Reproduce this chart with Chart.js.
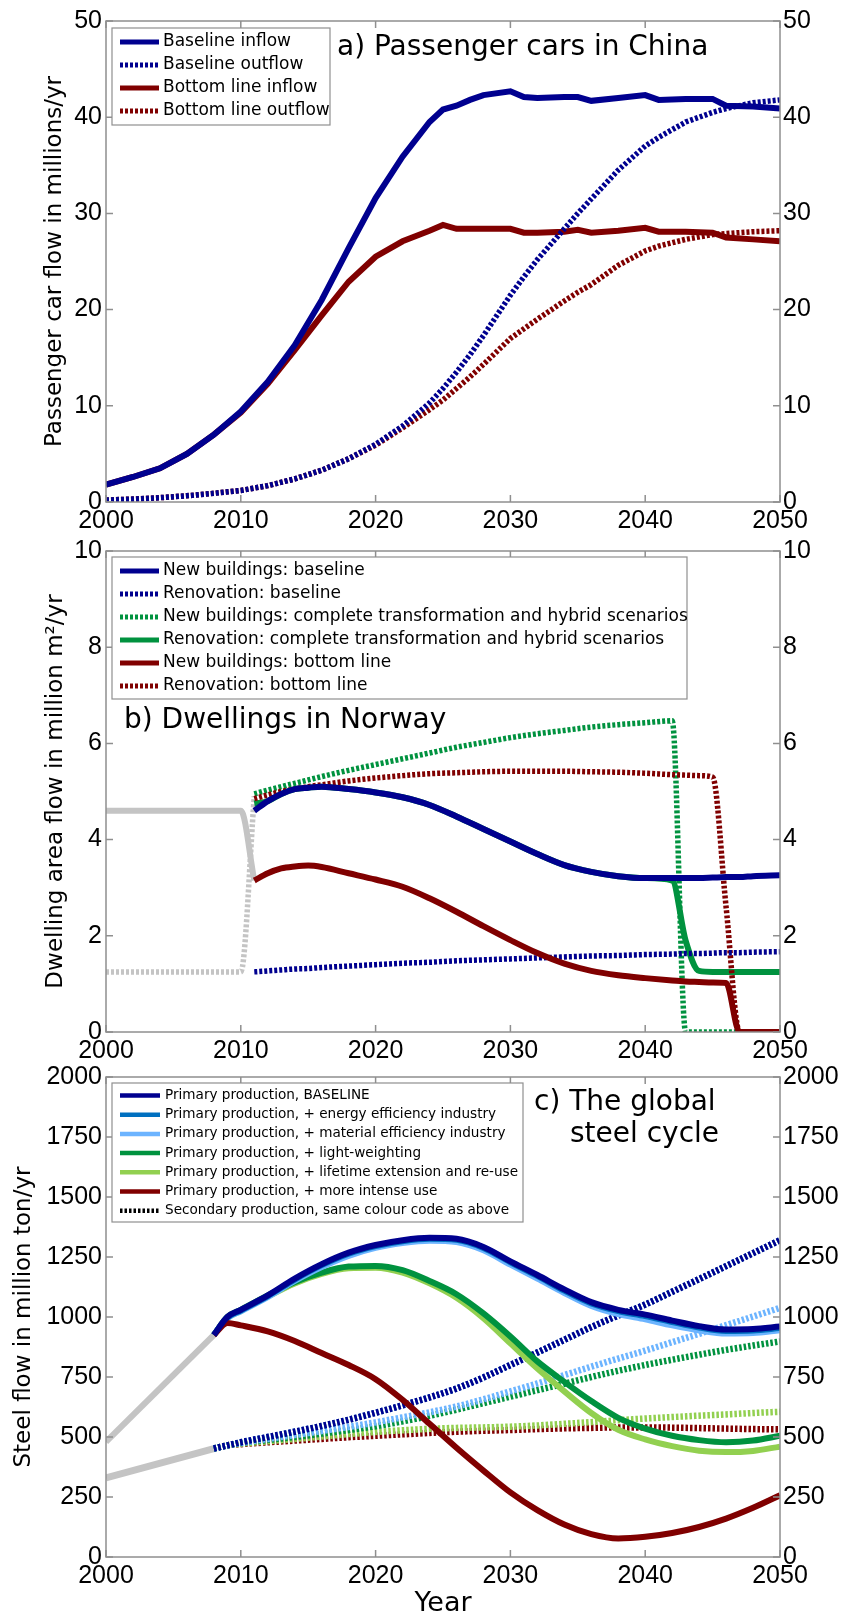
<!DOCTYPE html>
<html lang="en">
<head>
  <meta charset="UTF-8" />
  <title>Material flow scenarios</title>
  <script src="https://cdn.jsdelivr.net/npm/chart.js"></script>
  <style>
    body {
      margin: 0;
      background: #ffffff;
      width: 845px;
      height: 1617px;
      overflow: hidden;
      position: relative;
    }
    canvas {
      position: absolute;
      left: 0;
    }
  </style>
</head>
<body>
  <canvas id="chartA" width="845" height="545" style="top:0px"></canvas>
  <canvas id="chartB" width="845" height="545" style="top:530px"></canvas>
  <canvas id="chartC" width="845" height="559" style="top:1058px"></canvas>

  <script>
    // ---- a) Passenger cars in China (millions/yr) ----
    const yearsA = [2000, 2002, 2004, 2006, 2008, 2010, 2012, 2014, 2016, 2018, 2020, 2022, 2024, 2025, 2026, 2027,
                    2028, 2030, 2031, 2032, 2034, 2035, 2036, 2038, 2040, 2041, 2043, 2045, 2046, 2048, 2050];
    const baselineInflow = [1.8, 2.6, 3.5, 5.0, 7.0, 9.4, 12.5, 16.3, 21.0, 26.4, 31.6, 35.9, 39.5, 40.8, 41.2, 41.8,
                            42.3, 42.7, 42.1, 42.0, 42.1, 42.1, 41.7, 42.0, 42.3, 41.8, 41.9, 41.9, 41.2, 41.1, 40.9];
    const baselineOutflow = [0.2, 0.3, 0.45, 0.65, 0.9, 1.2, 1.7, 2.4, 3.3, 4.5, 6.0, 7.9, 10.3, 11.8, 13.5, 15.3,
                             17.3, 21.5, 23.4, 25.2, 28.4, 30.0, 31.5, 34.5, 37.0, 37.9, 39.5, 40.5, 40.9, 41.5, 41.8];
    const bottomInflow = [1.8, 2.6, 3.5, 5.0, 7.0, 9.3, 12.3, 15.8, 19.4, 22.9, 25.5, 27.1, 28.2, 28.8, 28.4, 28.4,
                          28.4, 28.4, 28.0, 28.0, 28.1, 28.3, 28.0, 28.2, 28.5, 28.1, 28.1, 28.0, 27.5, 27.3, 27.1];
    const bottomOutflow = [0.2, 0.3, 0.45, 0.65, 0.9, 1.2, 1.7, 2.4, 3.3, 4.5, 5.9, 7.7, 9.6, 10.6, 11.8, 13.0,
                           14.3, 17.0, 18.0, 19.0, 20.9, 21.8, 22.6, 24.6, 26.1, 26.6, 27.3, 27.8, 27.9, 28.1, 28.2];

    // ---- b) Dwellings in Norway (million m2/yr) ----
    const yearsB = [2000, 2010, 2011, 2012, 2013, 2014, 2015, 2016, 2018, 2020, 2022, 2024, 2026, 2028,
                    2030, 2032, 2034, 2036, 2038, 2040, 2042, 2043, 2044, 2045, 2046, 2047, 2048, 2050];
    const histNewB = [4.6, 4.6, 3.15, null, null, null, null, null, null, null, null, null, null, null,
                      null, null, null, null, null, null, null, null, null, null, null, null, null, null];
    const histRenovB = [1.25, 1.25, 4.9, null, null, null, null, null, null, null, null, null, null, null,
                        null, null, null, null, null, null, null, null, null, null, null, null, null, null];
    const newBaseline = [null, null, 4.6, 4.8, 4.95, 5.05, 5.08, 5.1, 5.05, 4.98, 4.88, 4.72, 4.48, 4.22,
                         3.96, 3.7, 3.47, 3.33, 3.24, 3.2, 3.2, 3.2, 3.2, 3.21, 3.22, 3.22, 3.24, 3.26];
    const renovBaseline = [null, null, 1.25, 1.27, 1.29, 1.31, 1.32, 1.34, 1.37, 1.40, 1.43, 1.45, 1.48, 1.50,
                           1.52, 1.54, 1.56, 1.58, 1.59, 1.61, 1.62, 1.63, 1.63, 1.64, 1.65, 1.65, 1.66, 1.67];
    const newTransform = [null, null, 4.95, 5.03, 5.1, 5.17, 5.24, 5.31, 5.44, 5.56, 5.68, 5.8, 5.92, 6.02,
                          6.12, 6.2, 6.27, 6.34, 6.39, 6.43, 6.47, 0, 0, 0, 0, 0, 0, 0];
    const renovTransform = [null, null, 4.75, 4.8, 4.95, 5.05, 5.08, 5.1, 5.05, 4.98, 4.88, 4.72, 4.48, 4.22,
                            3.96, 3.7, 3.47, 3.33, 3.24, 3.2, 3.15, 1.9, 1.27, 1.25, 1.25, 1.25, 1.25, 1.25];
    const newBottom = [null, null, 3.15, 3.3, 3.4, 3.44, 3.46, 3.43, 3.3, 3.17, 3.02, 2.78, 2.5, 2.2,
                       1.91, 1.64, 1.42, 1.27, 1.18, 1.12, 1.07, 1.05, 1.04, 1.03, 1.02, 0, 0, 0];
    const renovBottom = [null, null, 4.85, 4.93, 5.0, 5.05, 5.1, 5.14, 5.22, 5.28, 5.33, 5.37, 5.39, 5.41,
                         5.42, 5.42, 5.42, 5.41, 5.4, 5.38, 5.35, 5.34, 5.33, 5.3, 2.6, 0, 0, 0];

    // ---- c) The global steel cycle (million ton/yr) ----
    const yearsC = [2000, 2008, 2009, 2010, 2012, 2014, 2016, 2018, 2020, 2022, 2024, 2026,
                    2028, 2030, 2032, 2034, 2036, 2038, 2040, 2042, 2044, 2046, 2048, 2050];
    const histPrimary = [480, 925, null, null, null, null, null, null, null, null, null, null,
                         null, null, null, null, null, null, null, null, null, null, null, null];
    const histSecondary = [330, 452, null, null, null, null, null, null, null, null, null, null,
                           null, null, null, null, null, null, null, null, null, null, null, null];
    const primBaseline = [null, 925, 1000, 1030, 1090, 1160, 1220, 1268, 1300, 1320, 1330, 1326,
                          1292, 1232, 1175, 1115, 1062, 1030, 1010, 985, 962, 948, 950, 960];
    const primEnergy = [null, 925, 998, 1027, 1087, 1156, 1216, 1264, 1296, 1316, 1326, 1322,
                        1288, 1228, 1171, 1110, 1057, 1025, 1004, 979, 956, 942, 944, 954];
    const primMaterial = [null, 925, 995, 1024, 1083, 1150, 1208, 1255, 1288, 1308, 1318, 1312,
                          1278, 1218, 1160, 1100, 1046, 1012, 990, 965, 944, 931, 933, 945];
    const primLight = [null, 925, 1000, 1030, 1090, 1145, 1185, 1210, 1213, 1195, 1150, 1095,
                       1015, 919, 815, 730, 650, 580, 535, 505, 487, 478, 485, 505];
    const primLifetime = [null, 925, 995, 1025, 1085, 1140, 1180, 1203, 1205, 1185, 1140, 1080,
                          995, 890, 785, 690, 600, 530, 490, 462, 443, 437, 442, 460];
    const primIntense = [null, 925, 975, 965, 940, 900, 850, 800, 741, 655, 555, 455,
                         360, 269, 195, 135, 95, 77, 84, 100, 125, 160, 205, 257];
    const secBaseline = [null, 452, 465, 478, 500, 522, 546, 572, 601, 632, 665, 702,
                         748, 800, 852, 905, 958, 1006, 1052, 1105, 1158, 1212, 1266, 1320];
    const secEnergy = [null, 452, 465, 478, 500, 522, 546, 572, 601, 632, 665, 702,
                       748, 800, 852, 905, 958, 1006, 1052, 1105, 1158, 1212, 1266, 1320];
    const secMaterial = [null, 452, 465, 475, 492, 508, 525, 542, 561, 582, 603, 627,
                         657, 690, 723, 758, 793, 827, 860, 895, 930, 966, 1002, 1038];
    const secLight = [null, 452, 465, 475, 488, 500, 514, 529, 545, 565, 588, 614,
                      641, 668, 695, 722, 750, 776, 800, 822, 843, 863, 881, 898];
    const secLifetime = [null, 452, 465, 472, 482, 492, 502, 512, 521, 528, 534, 538,
                         540, 543, 548, 555, 562, 570, 577, 583, 589, 594, 600, 605];
    const secIntense = [null, 452, 465, 470, 478, 485, 492, 499, 505, 511, 517, 522,
                        526, 529, 533, 536, 538, 540, 540, 539, 537, 535, 533, 532];

    const NAVY = '#00008f';
    const MAROON = '#800000';
    const GREEN = '#00923f';
    const LIGHTGREEN = '#92d050';
    const MIDBLUE = '#0070c0';
    const LIGHTBLUE = '#6cb4ff';
    const GREY = '#c4c4c4';
    const DOTS = [3, 2];
    const TICK_FONT = { family: 'Liberation Sans', size: 25 };
    const AXIS_GREY = '#8f8f8f';

    function line(label, data, color, opts = {}) {
      return Object.assign({
        label: label,
        data: data,
        borderColor: color,
        backgroundColor: color,
        borderWidth: 6,
        fill: false,
        pointRadius: 0,
        inLegend: true
      }, opts);
    }

    // box with inward tick marks, drawn over the lines
    const matlabAxes = {
      id: 'matlabAxes',
      afterDatasetsDraw(chart) {
        const { ctx, chartArea: a, scales } = chart;
        const len = 7;
        ctx.save();
        ctx.strokeStyle = AXIS_GREY;
        ctx.lineWidth = 1.5;
        ctx.strokeRect(a.left, a.top, a.right - a.left, a.bottom - a.top);
        ctx.beginPath();
        scales.x.ticks.forEach(t => {
          const px = scales.x.getPixelForValue(t.value);
          ctx.moveTo(px, a.bottom); ctx.lineTo(px, a.bottom - len);
          ctx.moveTo(px, a.top); ctx.lineTo(px, a.top + len);
        });
        scales.y.ticks.forEach(t => {
          const py = scales.y.getPixelForValue(t.value);
          ctx.moveTo(a.left, py); ctx.lineTo(a.left + len, py);
          ctx.moveTo(a.right, py); ctx.lineTo(a.right - len, py);
        });
        ctx.stroke();
        ctx.restore();
      }
    };

    // legend in a framed box + panel caption
    const boxLegend = {
      id: 'boxLegend',
      afterDraw(chart, args, o) {
        const ctx = chart.ctx;
        ctx.save();
        ctx.fillStyle = '#ffffff';
        ctx.fillRect(o.left, o.top, o.width, o.height);
        ctx.strokeStyle = AXIS_GREY;
        ctx.lineWidth = 1.2;
        ctx.strokeRect(o.left, o.top, o.width, o.height);
        const items = chart.data.datasets
          .filter(ds => ds.inLegend)
          .sort((p, q) => p.legendIndex - q.legendIndex)
          .map(ds => ({ text: ds.label, color: ds.borderColor, dash: ds.borderDash }))
          .concat(o.extra || []);
        items.forEach((it, i) => {
          const y = o.firstRow + i * o.rowHeight;
          ctx.beginPath();
          ctx.strokeStyle = it.color;
          ctx.lineWidth = o.lineWidth;
          ctx.setLineDash(it.dash || []);
          ctx.moveTo(o.sampleFrom, y);
          ctx.lineTo(o.sampleTo, y);
          ctx.stroke();
          ctx.setLineDash([]);
          ctx.fillStyle = '#000000';
          ctx.font = o.font;
          ctx.textBaseline = 'middle';
          ctx.textAlign = 'left';
          ctx.fillText(it.text, o.textX, y);
        });
        ctx.font = o.captionFont;
        o.caption.forEach(c => ctx.fillText(c.text, c.x, c.y));
        ctx.restore();
      }
    };

    function panel(id, cfg) {
      return new Chart(document.getElementById(id), {
        type: 'line',
        data: { labels: cfg.years, datasets: cfg.datasets },
        options: {
          responsive: false,
          animation: false,
          events: [],
          layout: { padding: { top: cfg.plotTop, left: 0, right: 0, bottom: 0 } },
          plugins: {
            legend: { display: false },
            tooltip: { enabled: false },
            boxLegend: cfg.legend
          },
          scales: {
            x: {
              type: 'linear',
              min: 2000,
              max: 2050,
              afterFit: s => { s.height = cfg.xAxisHeight; },
              grid: { display: false, drawTicks: false },
              border: { display: false },
              ticks: { stepSize: 10, padding: 4, color: '#000', font: TICK_FONT, maxRotation: 0,
                       callback: v => String(v) },
              title: cfg.xTitle || { display: false }
            },
            y: {
              min: 0,
              max: cfg.yMax,
              afterFit: s => { s.width = 106; },
              grid: { display: false, drawTicks: false },
              border: { display: false },
              ticks: { stepSize: cfg.yStep, padding: 4, color: '#000', font: TICK_FONT, callback: v => String(v) },
              title: {
                display: true,
                text: cfg.yTitle,
                color: '#000',
                font: { family: 'DejaVu Sans', size: 23, lineHeight: 1 },
                padding: { top: cfg.yTitlePad, bottom: 0 }
              }
            },
            y2: {
              position: 'right',
              min: 0,
              max: cfg.yMax,
              afterFit: s => { s.width = 65; },
              grid: { display: false, drawTicks: false },
              border: { display: false },
              ticks: { stepSize: cfg.yStep, padding: 3, color: '#000', font: TICK_FONT, callback: v => String(v) }
            }
          }
        },
        plugins: [matlabAxes, boxLegend]
      });
    }

    const legendFont = '17px "DejaVu Sans"';
    const captionFont = '28px "DejaVu Sans"';

    panel('chartA', {
      years: yearsA,
      plotTop: 21,
      xAxisHeight: 43,
      yMax: 50,
      yStep: 10,
      yTitle: 'Passenger car flow in millions/yr',
      yTitlePad: 43.5,
      datasets: [
        line('Baseline inflow', baselineInflow, NAVY, { legendIndex: 0 }),
        line('Baseline outflow', baselineOutflow, NAVY, { legendIndex: 1, borderDash: DOTS, borderWidth: 5.5 }),
        line('Bottom line inflow', bottomInflow, MAROON, { legendIndex: 2 }),
        line('Bottom line outflow', bottomOutflow, MAROON, { legendIndex: 3, borderDash: DOTS, borderWidth: 5.5 })
      ],
      legend: {
        left: 112, top: 28, width: 218, height: 97,
        firstRow: 42, rowHeight: 23, sampleFrom: 120, sampleTo: 159, textX: 163,
        lineWidth: 5, font: legendFont, captionFont: captionFont,
        caption: [{ text: 'a) Passenger cars in China', x: 337, y: 48 }]
      }
    });

    const mono = { cubicInterpolationMode: 'monotone' };

    panel('chartB', {
      years: yearsB,
      plotTop: 21,
      xAxisHeight: 43,
      yMax: 10,
      yStep: 2,
      yTitle: 'Dwelling area flow in million m²/yr',
      yTitlePad: 44.5,
      datasets: [
        line('New buildings: baseline', newBaseline, NAVY, Object.assign({ legendIndex: 0, order: 1 }, mono)),
        line('Renovation: baseline', renovBaseline, NAVY,
             Object.assign({ legendIndex: 1, order: 2, borderDash: DOTS, borderWidth: 5.5 }, mono)),
        line('New buildings: complete transformation and hybrid scenarios', newTransform, GREEN,
             Object.assign({ legendIndex: 2, order: 4, borderDash: DOTS, borderWidth: 5.5 }, mono)),
        line('Renovation: complete transformation and hybrid scenarios', renovTransform, GREEN,
             Object.assign({ legendIndex: 3, order: 5 }, mono)),
        line('New buildings: bottom line', newBottom, MAROON, Object.assign({ legendIndex: 4, order: 0 }, mono)),
        line('Renovation: bottom line', renovBottom, MAROON,
             Object.assign({ legendIndex: 5, order: 3, borderDash: DOTS, borderWidth: 5.5 }, mono)),
        line('history new', histNewB, GREY, Object.assign({ inLegend: false, order: 9 }, mono)),
        line('history renovation', histRenovB, GREY,
             Object.assign({ inLegend: false, order: 9, borderDash: DOTS, borderWidth: 5.5 }, mono))
      ],
      legend: {
        left: 112, top: 27, width: 575, height: 142,
        firstRow: 41, rowHeight: 23, sampleFrom: 120, sampleTo: 159, textX: 163,
        lineWidth: 5, font: legendFont, captionFont: captionFont,
        caption: [{ text: 'b) Dwellings in Norway', x: 124, y: 191 }]
      }
    });

    const secStyle = Object.assign({ inLegend: false, borderDash: [2.5, 2], borderWidth: 6.5 }, mono);

    panel('chartC', {
      years: yearsC,
      plotTop: 19,
      xAxisHeight: 60,
      yMax: 2000,
      yStep: 250,
      yTitle: 'Steel flow in million ton/yr',
      yTitlePad: 12.5,
      xTitle: {
        display: true,
        text: 'Year',
        color: '#000',
        font: { family: 'DejaVu Sans', size: 27, lineHeight: 1 },
        padding: { top: 0, bottom: 0 }
      },
      datasets: [
        line('Primary production, BASELINE', primBaseline, NAVY, Object.assign({ legendIndex: 0, order: 0 }, mono)),
        line('Primary production, + energy efficiency industry', primEnergy, MIDBLUE,
             Object.assign({ legendIndex: 1, order: 1 }, mono)),
        line('Primary production, + material efficiency industry', primMaterial, LIGHTBLUE,
             Object.assign({ legendIndex: 2, order: 2 }, mono)),
        line('Primary production, + light-weighting', primLight, GREEN, Object.assign({ legendIndex: 3, order: 3 }, mono)),
        line('Primary production, + lifetime extension and re-use', primLifetime, LIGHTGREEN,
             Object.assign({ legendIndex: 4, order: 4 }, mono)),
        line('Primary production, + more intense use', primIntense, MAROON,
             Object.assign({ legendIndex: 5, order: 0.5 }, mono)),
        line('Secondary, baseline', secBaseline, NAVY, Object.assign({ order: 6 }, secStyle)),
        line('Secondary, energy efficiency', secEnergy, MIDBLUE, Object.assign({ order: 7 }, secStyle)),
        line('Secondary, material efficiency', secMaterial, LIGHTBLUE, Object.assign({ order: 8 }, secStyle)),
        line('Secondary, light-weighting', secLight, GREEN, Object.assign({ order: 9 }, secStyle)),
        line('Secondary, lifetime extension', secLifetime, LIGHTGREEN, Object.assign({ order: 10 }, secStyle)),
        line('Secondary, more intense use', secIntense, MAROON, Object.assign({ order: 11 }, secStyle)),
        line('history primary', histPrimary, GREY, { inLegend: false, order: 12, borderWidth: 6 }),
        line('history secondary', histSecondary, GREY, { inLegend: false, order: 12, borderWidth: 7 })
      ],
      legend: {
        left: 112, top: 25, width: 411, height: 139,
        firstRow: 37.5, rowHeight: 19.2, sampleFrom: 120, sampleTo: 160, textX: 165,
        lineWidth: 4.5, font: '13.6px "DejaVu Sans"', captionFont: captionFont,
        extra: [{ text: 'Secondary production, same colour code as above', color: '#000000', dash: [2.5, 2] }],
        caption: [
          { text: 'c) The global', x: 534, y: 45 },
          { text: 'steel cycle', x: 570, y: 77 }
        ]
      }
    });
  </script>
</body>
</html>
